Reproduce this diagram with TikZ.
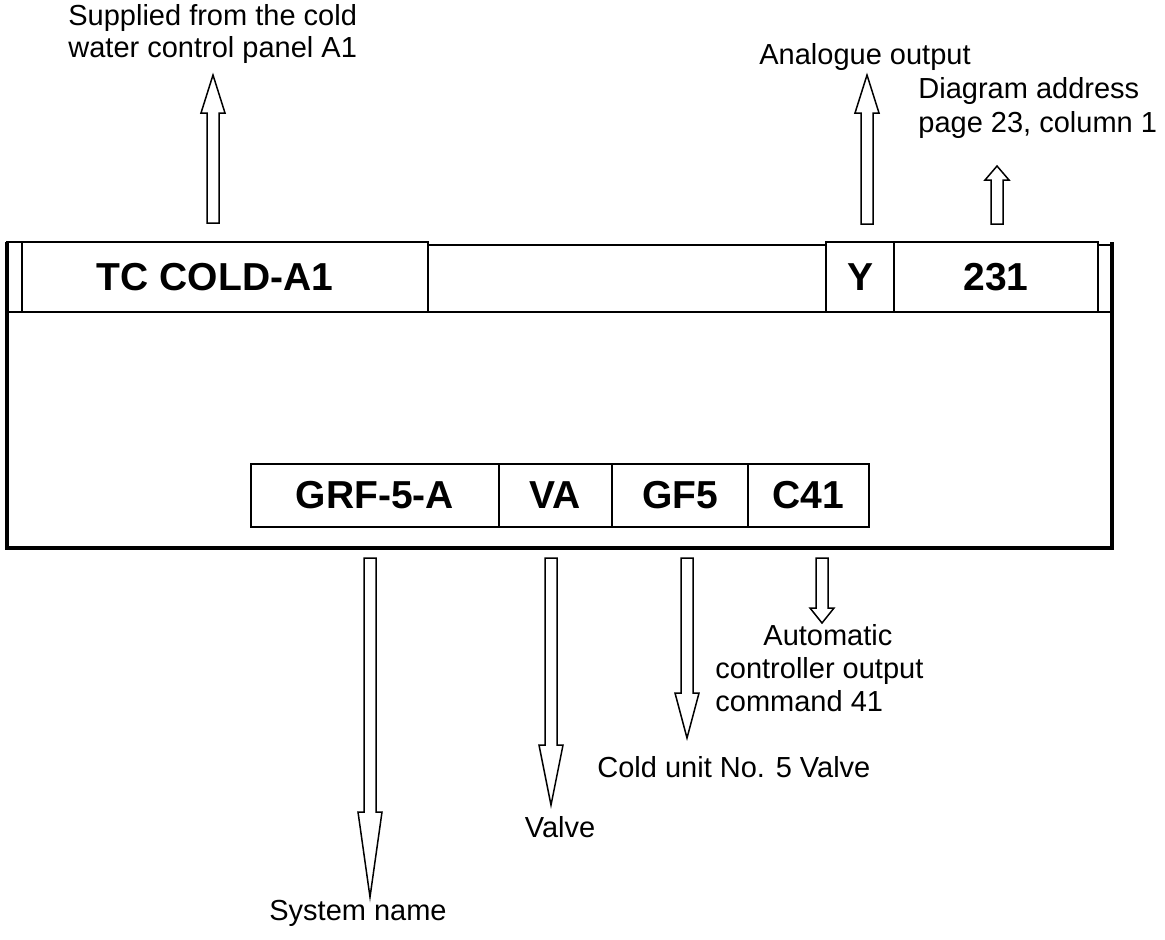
\documentclass[tikz,border=0pt]{standalone}
\usepackage{fontspec}
\setmainfont{Liberation Sans}
\usetikzlibrary{positioning,calc}

% hollow block arrow from #1 to the tip #2, head length #3
\newcommand\hollowarrow[3]{%
  \draw[blockarrow] let \p1=(#1), \p2=(#2), \n1={sign(\y2-\y1)} in
    (\x1-3pt,\y1) -- (\x1-3pt,{\y2-(\n1)*#3}) -- (\x1-6pt,{\y2-(\n1)*#3}) -- (\x1,\y2)
    -- (\x1+6pt,{\y2-(\n1)*#3}) -- (\x1+3pt,{\y2-(\n1)*#3}) -- (\x1+3pt,\y1) -- cycle;
}

\begin{document}
\begin{tikzpicture}[x=0.5pt, y=-0.5pt,
    cellbox/.style={draw, line width=0.8pt, outer sep=0pt, inner sep=0pt,
      font=\fontsize{19.5}{23}\selectfont\bfseries},
    note/.style={inner sep=0pt, font=\fontsize{14.5}{16}\selectfont},
    blockarrow/.style={line width=0.75pt, line join=miter, fill=white},
    frameline/.style={line width=1.8pt}]
    \useasboundingbox (0,0) rectangle (1165,939);

    % top row of the frame
    \node[cellbox, anchor=south west, minimum width=7.5pt, minimum height=35pt] (edgeL) at (7,312) {};
    \node[cellbox, anchor=south west, minimum width=203pt, minimum height=35pt] (tc) at (22,312) {TC COLD-A1\hspace*{10pt}};
    \node[cellbox, anchor=south west, minimum width=199pt, minimum height=33.5pt] (blank) at (428,312) {};
    \node[cellbox, anchor=south west, minimum width=34pt, minimum height=35pt] (ycell) at (826,312) {Y};
    \node[cellbox, anchor=south west, minimum width=102pt, minimum height=35pt] (addr) at (894,312) {231};
    \node[cellbox, anchor=south west, minimum width=7pt, minimum height=33.5pt] (edgeR) at (1098,312) {};
    \draw[frameline] (edgeL.north west) -- (7,548) -- (1112,548) -- (edgeR.east |- edgeL.north);

    % bottom row
    \node[cellbox, anchor=south west, minimum width=124pt, minimum height=31.5pt] (grf) at (251,527) {GRF-5-A};
    \node[cellbox, right=0pt of grf, minimum width=56.5pt, minimum height=31.5pt] (va) {VA};
    \node[cellbox, right=0pt of va, minimum width=68pt, minimum height=31.5pt] (gf) {GF5};
    \node[cellbox, right=0pt of gf, minimum width=60.5pt, minimum height=31.5pt] (cmd) {C41};

    % texts
    \node[note, anchor=west, align=left, font=\fontsize{14.5}{16}\selectfont] (supplied) at (68,34)
      {Supplied from the cold\\water control panel A1};
    \node[note] (analogue) at (865,57) {Analogue output};
    \node[note, anchor=west, align=left, font=\fontsize{14.5}{17}\selectfont] (diagram) at (918,108)
      {Diagram address\\page 23, column 1};
    \node[note, anchor=west, align=left, font=\fontsize{14.5}{16.5}\selectfont] (automatic) at (715,668)
      {\hspace*{24pt}Automatic\\controller output\\command 41};
    \node[note, anchor=west] (coldunit) at (597,767) {Cold unit No. 5 Valve};
    \node[note] (valve) at (560,827) {Valve};
    \node[note] (system) at (358,913) {System name};

    % arrows
    \coordinate (supS) at (213,223);  \coordinate (supT) at (213,75);
    \coordinate (anaS) at (867,224);  \coordinate (anaT) at (867,75);
    \coordinate (adrS) at (997,224);  \coordinate (adrT) at (997,166);
    \coordinate (sysS) at (370,558);  \coordinate (sysT) at (370,897);
    \coordinate (valS) at (551,558);  \coordinate (valT) at (551,805);
    \coordinate (gfS) at (687,558);   \coordinate (gfT) at (687,738);
    \coordinate (cmdS) at (822,558);  \coordinate (cmdT) at (822,623);
    \hollowarrow{supS}{supT}{19pt}
    \hollowarrow{anaS}{anaT}{19pt}
    \hollowarrow{adrS}{adrT}{7pt}
    \hollowarrow{sysS}{sysT}{42.5pt}
    \hollowarrow{valS}{valT}{30pt}
    \hollowarrow{gfS}{gfT}{22.5pt}
    \hollowarrow{cmdS}{cmdT}{7.5pt}
  \end{tikzpicture}
\end{document}
